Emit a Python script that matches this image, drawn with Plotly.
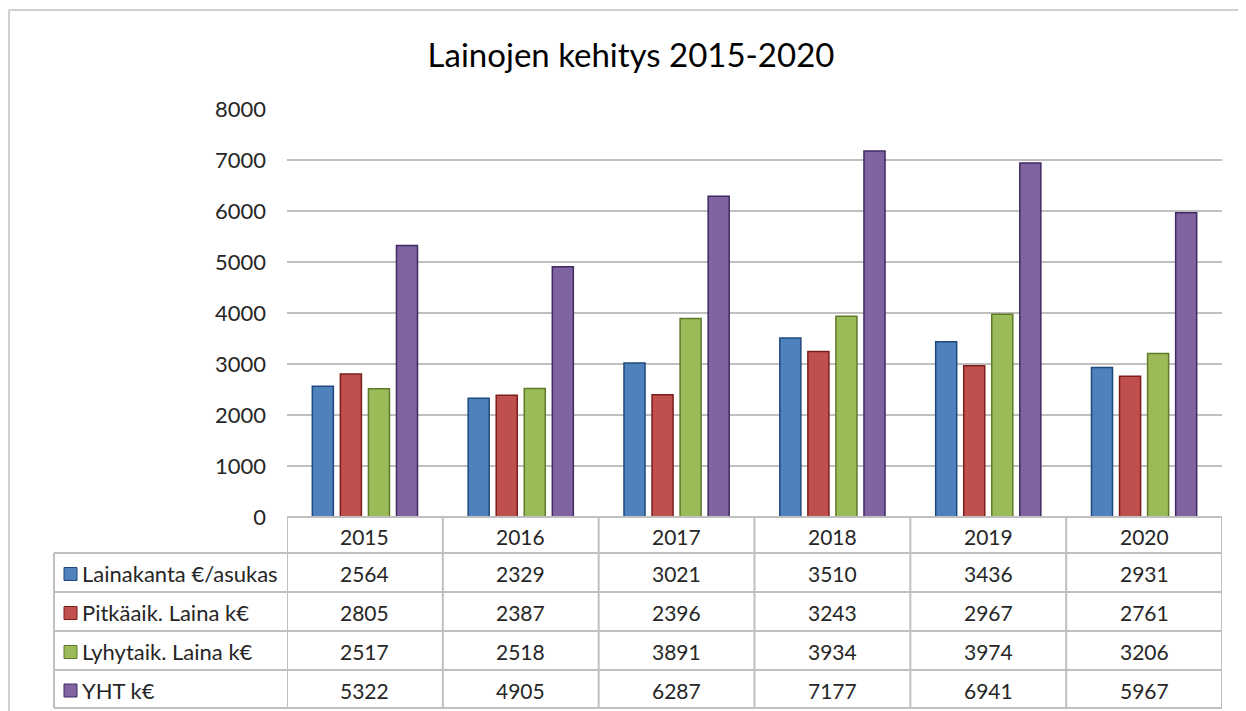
import plotly.graph_objects as go

years = ['2015', '2016', '2017', '2018', '2019', '2020']
series_names = ['Lainakanta €/asukas', 'Pitkäaik. Laina k€', 'Lyhytaik. Laina k€', 'YHT k€']
lainakanta = [2564, 2329, 3021, 3510, 3436, 2931]
pitkaaik = [2805, 2387, 2396, 3243, 2967, 2761]
lyhytaik = [2517, 2518, 3891, 3934, 3974, 3206]
yht = [5322, 4905, 6287, 7177, 6941, 5967]
y_ticks = [0, 1000, 2000, 3000, 4000, 5000, 6000, 7000, 8000]

series_values = [lainakanta, pitkaaik, lyhytaik, yht]
fill_colors = ['#4F81BD', '#C0504D', '#9BBB59', '#8064A2']
edge_colors = ['#1F497D', '#7B1E1C', '#5E7B2A', '#3F2A62']

OFF = 8  # page body margin
W, H = 1246 - 2 * OFF, 711 - OFF
# plot area in screen pixels
SL, SR, ST, SB = 287, 1222, 109, 517
L, R, T, B = SL - OFF, SR - OFF, ST - OFF, SB - OFF
FONT = 'Lato'
GRID = '#BFBFBF'
TXT = '#262626'


def px_x(x):
    return (x - SL) / (SR - SL)


def px_y(y):
    return (SB - y) / (SB - ST)


fig = go.Figure()
for name, vals, fc, ec in zip(series_names, series_values, fill_colors, edge_colors):
    fig.add_trace(go.Bar(
        x=years, y=vals, name=name,
        marker=dict(color=fc, line=dict(color=ec, width=1.5)),
        showlegend=False,
    ))

shapes = []
annotations = []

# outer chart border (top and left edges visible)
shapes.append(dict(type='line', xref='paper', yref='paper',
                   x0=px_x(9), x1=px_x(1300), y0=px_y(10), y1=px_y(10),
                   line=dict(color='#D0D0D0', width=2), layer='below'))
shapes.append(dict(type='line', xref='paper', yref='paper',
                   x0=px_x(9), x1=px_x(9), y0=px_y(10), y1=px_y(760),
                   line=dict(color='#D0D0D0', width=2), layer='below'))

# table geometry (screen pixels)
row_bounds = [517, 553, 592, 631, 670, 708]
left_x = 54

shapes.append(dict(type='line', xref='paper', yref='paper', x0=0, x1=1,
                   y0=px_y(row_bounds[0]), y1=px_y(row_bounds[0]),
                   line=dict(color=GRID, width=2)))
for yb in row_bounds[1:]:
    shapes.append(dict(type='line', xref='paper', yref='paper', x0=px_x(left_x), x1=1,
                       y0=px_y(yb), y1=px_y(yb), line=dict(color=GRID, width=2)))
shapes.append(dict(type='line', xref='paper', yref='paper', x0=px_x(left_x), x1=px_x(left_x),
                   y0=px_y(row_bounds[1]), y1=px_y(row_bounds[-1]), line=dict(color=GRID, width=2)))
for i in range(len(years) + 1):
    shapes.append(dict(type='line', xref='x', yref='paper', x0=i - 0.5, x1=i - 0.5,
                       y0=px_y(row_bounds[0]), y1=px_y(row_bounds[-1]),
                       line=dict(color=GRID, width=2)))

for i, yr in enumerate(years):
    annotations.append(dict(x=i, y=px_y((row_bounds[0] + row_bounds[1]) / 2 + 1), xref='x', yref='paper',
                            text=yr, showarrow=False, font=dict(family=FONT, size=21, color=TXT),
                            xanchor='center', yanchor='middle'))

for r, (name, vals, fc, ec) in enumerate(zip(series_names, series_values, fill_colors, edge_colors)):
    yc = (row_bounds[r + 1] + row_bounds[r + 2]) / 2
    shapes.append(dict(type='rect', xref='paper', yref='paper',
                       x0=px_x(64), x1=px_x(77), y0=px_y(yc - 5), y1=px_y(yc + 8),
                       fillcolor=fc, line=dict(color=ec, width=1)))
    annotations.append(dict(x=px_x(80), y=px_y(yc + 1), xref='paper', yref='paper', text=name,
                            showarrow=False, font=dict(family=FONT, size=22, color=TXT),
                            xanchor='left', yanchor='middle'))
    for i, v in enumerate(vals):
        annotations.append(dict(x=i, y=px_y(yc + 1), xref='x', yref='paper', text=str(v),
                                showarrow=False, font=dict(family=FONT, size=21, color=TXT),
                                xanchor='center', yanchor='middle'))

fig.update_layout(
    width=W, height=H, autosize=False,
    margin=dict(l=L, r=W - R, t=T, b=H - B, pad=0),
    paper_bgcolor='white', plot_bgcolor='white',
    barmode='group', bargap=0.28, bargroupgap=0.25,
    title=dict(text='Lainojen kehitys 2015-2020', x=(631 - OFF) / W, xanchor='center',
               y=1 - (55 - OFF) / H, yanchor='middle', yref='container',
               font=dict(family=FONT, size=33, color='#000000')),
    xaxis=dict(showticklabels=False, showgrid=False, zeroline=False, showline=False,
               range=[-0.5, len(years) - 0.5], fixedrange=True),
    yaxis=dict(range=[0, 8000], tickvals=y_ticks, showgrid=True, gridcolor=GRID, gridwidth=2,
               zeroline=False, showline=False, ticks='', ticklabelstandoff=20,
               tickfont=dict(family=FONT, size=22, color=TXT)),
    shapes=shapes, annotations=annotations,
    font=dict(family=FONT),
)

fig.write_html('out.html')
